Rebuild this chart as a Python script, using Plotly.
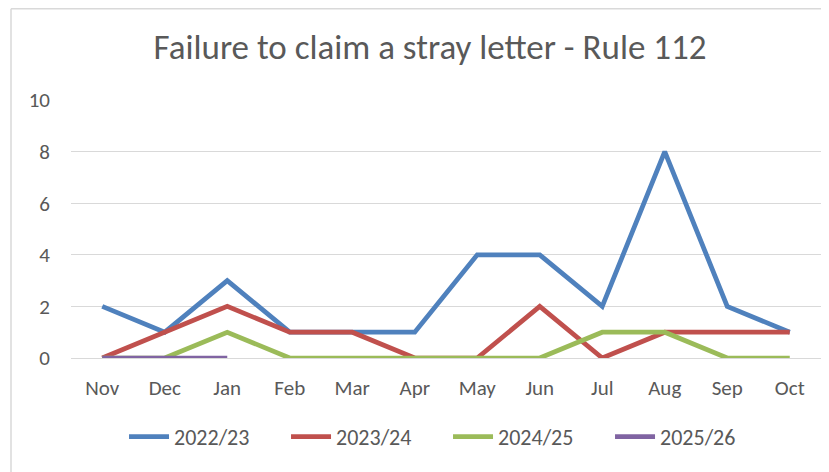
import plotly.graph_objects as go

months = ["Nov", "Dec", "Jan", "Feb", "Mar", "Apr", "May", "Jun", "Jul", "Aug", "Sep", "Oct"]
s2022 = [2, 1, 3, 1, 1, 1, 4, 4, 2, 8, 2, 1]
s2023 = [0, 1, 2, 1, 1, 0, 0, 2, 0, 1, 1, 1]
s2024 = [0, 0, 1, 0, 0, 0, 0, 0, 1, 1, 0, 0]
s2025 = [0, 0, 0]
series_names = ["2022/23", "2023/24", "2024/25", "2025/26"]
colors = ["#4F81BD", "#C0504D", "#9BBB59", "#8064A2"]
y_ticks = [0, 2, 4, 6, 8, 10]

FONT = "Carlito, Calibri, Lato, sans-serif"
TXT = "#595959"

fig = go.Figure()
for name, vals, col in zip(series_names, [s2022, s2023, s2024, s2025], colors):
    fig.add_trace(go.Scatter(
        x=months[:len(vals)], y=vals, name=name, mode="lines",
        line=dict(color=col, width=4.75), cliponaxis=False,
    ))

fig.update_layout(
    width=821, height=464,
    margin=dict(l=63, r=8, t=92, b=114),
    paper_bgcolor="white", plot_bgcolor="white",
    font=dict(family=FONT, color=TXT, size=21),
    title=dict(text="Failure to claim a stray letter - Rule 112",
               x=0.514, xanchor="center", y=0.916, yanchor="middle",
               xref="container", yref="container",
               font=dict(family=FONT, size=35, color=TXT)),
    showlegend=True,
    legend=dict(orientation="h", x=0.0707, xanchor="left", y=-0.306, yanchor="middle",
                font=dict(family=FONT, size=22, color=TXT),
                entrywidth=107, itemwidth=40, bgcolor="rgba(0,0,0,0)"),
    xaxis=dict(categoryorder="array", categoryarray=months, range=[-0.5, 11.5],
               showgrid=False, showline=True, linecolor="#D9D9D9", linewidth=1,
               ticks="", ticklabelstandoff=11, tickfont=dict(size=21, color=TXT)),
    yaxis=dict(range=[0, 10], tickvals=y_ticks, showgrid=True, gridcolor="#D9D9D9",
               gridwidth=1, zeroline=False, ticks="", ticklabelstandoff=20,
               tickfont=dict(size=21, color=TXT), fixedrange=True),
    shapes=[
        dict(type="line", xref="paper", yref="paper", x0=-0.08, x1=1.02,
             y0=1.3537, y1=1.3537, line=dict(color="#D9D9D9", width=1.5)),
        dict(type="line", xref="paper", yref="paper", x0=-0.08, x1=-0.08,
             y0=1.3537, y1=-0.45, line=dict(color="#D9D9D9", width=1.5)),
    ],
)

fig.write_html("out.html")
